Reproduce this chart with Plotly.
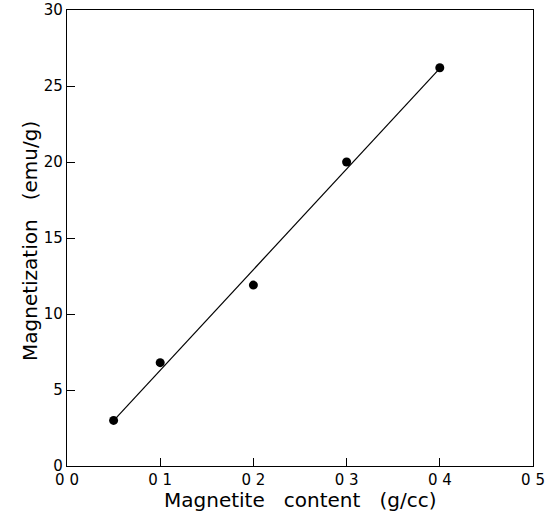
import numpy as np
import plotly.graph_objects as go

content = [0.05, 0.1, 0.2, 0.3, 0.4]
magnetization = [3.0, 6.8, 11.9, 20.0, 26.2]
x_tick_vals = [0, 0.1, 0.2, 0.3, 0.4, 0.5]
x_tick_text = ["0 0", "0 1", "0 2", "0 3", "0 4", "0 5"]
y_tick_vals = [0, 5, 10, 15, 20, 25, 30]
y_tick_text = ["0", "5", "10", "15", "20", "25", "30"]
x_title = "Magnetite   content   (g/cc)"
y_title = "Magnetization   (emu/g)"

slope, intercept = np.polyfit(content, magnetization, 1)
fit_x = [min(content), max(content)]
fit_y = [slope * v + intercept for v in fit_x]

fig = go.Figure()
fig.add_trace(go.Scatter(x=fit_x, y=fit_y, mode="lines",
                         line=dict(color="black", width=1.2), showlegend=False))
fig.add_trace(go.Scatter(x=content, y=magnetization, mode="markers",
                         marker=dict(color="black", size=9), showlegend=False))

font = "DejaVu Sans"
axis_common = dict(ticks="inside", ticklen=8, tickcolor="black", tickwidth=1.2,
                   showline=True, linecolor="black", linewidth=1.3, mirror=True,
                   showgrid=False, zeroline=False, tickfont=dict(size=15),
                   automargin=False)
fig.update_layout(
    width=557, height=514,
    margin=dict(l=67, r=24, t=10, b=48),
    paper_bgcolor="white", plot_bgcolor="white",
    font=dict(family=font, color="black", size=15),
    xaxis=dict(range=[0, 0.5], tickvals=x_tick_vals, ticktext=x_tick_text, **axis_common),
    yaxis=dict(range=[0, 30], tickvals=y_tick_vals, ticktext=y_tick_text, **axis_common),
    annotations=[
        dict(text=x_title, xref="paper", yref="paper", x=0.5, y=0, yshift=-34,
             yanchor="middle", showarrow=False, font=dict(size=20)),
        dict(text=y_title, xref="paper", yref="paper", x=0, y=0.5, xshift=-37,
             yshift=-3, xanchor="center", yanchor="middle", textangle=-90,
             showarrow=False, font=dict(size=20)),
    ],
)
fig.write_html("out.html", config={"displayModeBar": False},
               post_script="document.body.style.margin='0';")
